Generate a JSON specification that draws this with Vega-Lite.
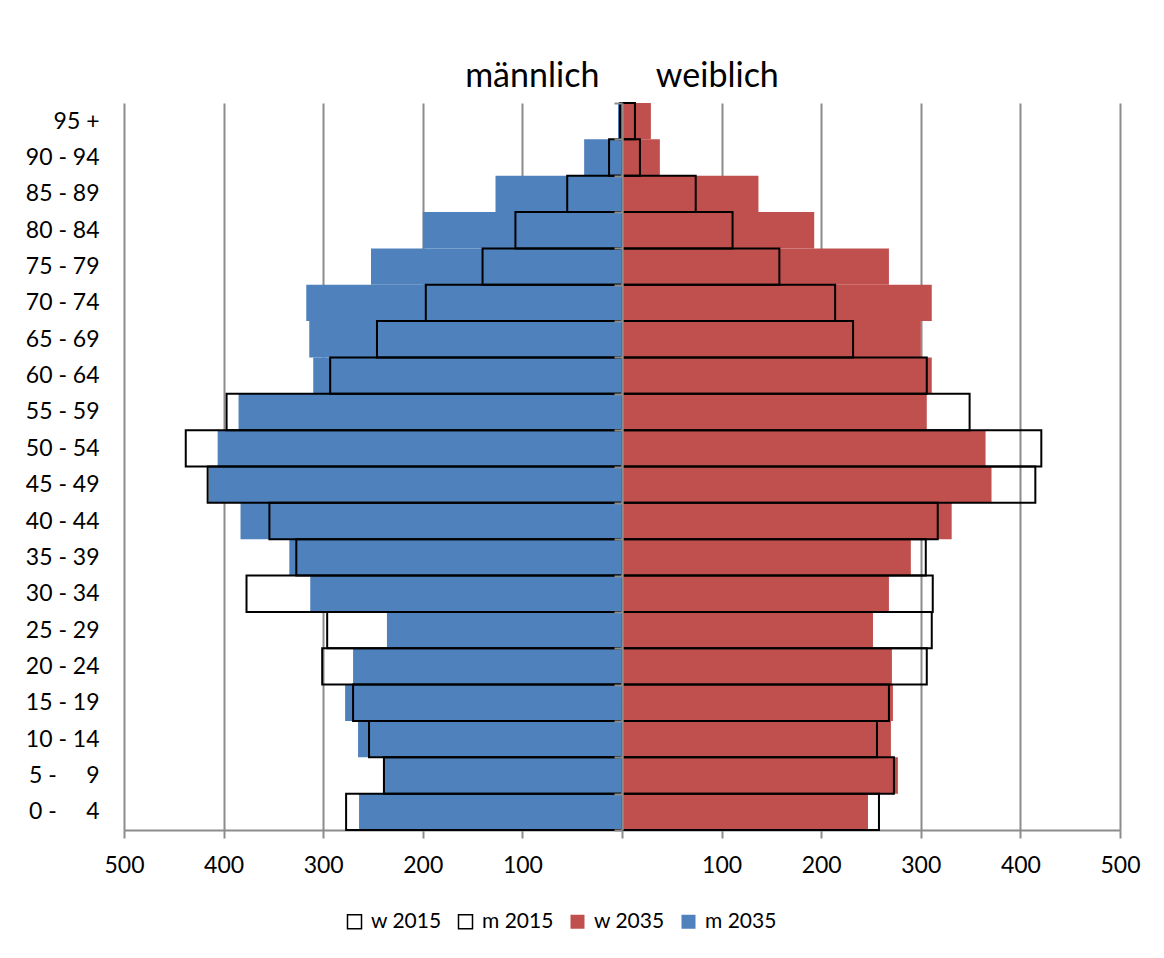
{
  "$schema": "https://vega.github.io/schema/vega-lite/v6.json",
  "width": 996,
  "height": 727,
  "autosize": "none",
  "padding": {"left": 124, "top": 103, "right": 44, "bottom": 128},
  "background": "white",
  "title": {
    "text": "männlich\u00a0\u00a0\u00a0\u00a0\u00a0\u00a0\u2009weiblich",
    "font": "Lato",
    "fontSize": 34,
    "fontWeight": "normal",
    "color": "black",
    "anchor": "middle",
    "frame": "group",
    "baseline": "bottom",
    "offset": 8,
    "dy": 44
  },
  "data": {
    "values": [
      {"alter": "0 -\u00a0\u00a0\u00a0\u00a0\u00a04", "serie": "m 2035", "wert": -264},
      {"alter": "5 -\u00a0\u00a0\u00a0\u00a0\u00a09", "serie": "m 2035", "wert": -240},
      {"alter": "10 - 14", "serie": "m 2035", "wert": -265},
      {"alter": "15 - 19", "serie": "m 2035", "wert": -278},
      {"alter": "20 - 24", "serie": "m 2035", "wert": -270},
      {"alter": "25 - 29", "serie": "m 2035", "wert": -236},
      {"alter": "30 - 34", "serie": "m 2035", "wert": -313},
      {"alter": "35 - 39", "serie": "m 2035", "wert": -334},
      {"alter": "40 - 44", "serie": "m 2035", "wert": -383},
      {"alter": "45 - 49", "serie": "m 2035", "wert": -415},
      {"alter": "50 - 54", "serie": "m 2035", "wert": -406},
      {"alter": "55 - 59", "serie": "m 2035", "wert": -385},
      {"alter": "60 - 64", "serie": "m 2035", "wert": -310},
      {"alter": "65 - 69", "serie": "m 2035", "wert": -314},
      {"alter": "70 - 74", "serie": "m 2035", "wert": -317},
      {"alter": "75 - 79", "serie": "m 2035", "wert": -252},
      {"alter": "80 - 84", "serie": "m 2035", "wert": -200},
      {"alter": "85 - 89", "serie": "m 2035", "wert": -127},
      {"alter": "90 - 94", "serie": "m 2035", "wert": -38},
      {"alter": "95 +", "serie": "m 2035", "wert": -4},
      {"alter": "0 -\u00a0\u00a0\u00a0\u00a0\u00a04", "serie": "w 2035", "wert": 247},
      {"alter": "5 -\u00a0\u00a0\u00a0\u00a0\u00a09", "serie": "w 2035", "wert": 277},
      {"alter": "10 - 14", "serie": "w 2035", "wert": 270},
      {"alter": "15 - 19", "serie": "w 2035", "wert": 272},
      {"alter": "20 - 24", "serie": "w 2035", "wert": 271},
      {"alter": "25 - 29", "serie": "w 2035", "wert": 252},
      {"alter": "30 - 34", "serie": "w 2035", "wert": 268},
      {"alter": "35 - 39", "serie": "w 2035", "wert": 290},
      {"alter": "40 - 44", "serie": "w 2035", "wert": 331},
      {"alter": "45 - 49", "serie": "w 2035", "wert": 371},
      {"alter": "50 - 54", "serie": "w 2035", "wert": 365},
      {"alter": "55 - 59", "serie": "w 2035", "wert": 306},
      {"alter": "60 - 64", "serie": "w 2035", "wert": 311},
      {"alter": "65 - 69", "serie": "w 2035", "wert": 300},
      {"alter": "70 - 74", "serie": "w 2035", "wert": 311},
      {"alter": "75 - 79", "serie": "w 2035", "wert": 268},
      {"alter": "80 - 84", "serie": "w 2035", "wert": 193},
      {"alter": "85 - 89", "serie": "w 2035", "wert": 137},
      {"alter": "90 - 94", "serie": "w 2035", "wert": 38},
      {"alter": "95 +", "serie": "w 2035", "wert": 29},
      {"alter": "0 -\u00a0\u00a0\u00a0\u00a0\u00a04", "serie": "m 2015", "wert": -277},
      {"alter": "5 -\u00a0\u00a0\u00a0\u00a0\u00a09", "serie": "m 2015", "wert": -239},
      {"alter": "10 - 14", "serie": "m 2015", "wert": -254},
      {"alter": "15 - 19", "serie": "m 2015", "wert": -270},
      {"alter": "20 - 24", "serie": "m 2015", "wert": -301},
      {"alter": "25 - 29", "serie": "m 2015", "wert": -296},
      {"alter": "30 - 34", "serie": "m 2015", "wert": -377},
      {"alter": "35 - 39", "serie": "m 2015", "wert": -327},
      {"alter": "40 - 44", "serie": "m 2015", "wert": -354},
      {"alter": "45 - 49", "serie": "m 2015", "wert": -416},
      {"alter": "50 - 54", "serie": "m 2015", "wert": -438},
      {"alter": "55 - 59", "serie": "m 2015", "wert": -397},
      {"alter": "60 - 64", "serie": "m 2015", "wert": -293},
      {"alter": "65 - 69", "serie": "m 2015", "wert": -246},
      {"alter": "70 - 74", "serie": "m 2015", "wert": -197},
      {"alter": "75 - 79", "serie": "m 2015", "wert": -140},
      {"alter": "80 - 84", "serie": "m 2015", "wert": -107},
      {"alter": "85 - 89", "serie": "m 2015", "wert": -55},
      {"alter": "90 - 94", "serie": "m 2015", "wert": -13},
      {"alter": "95 +", "serie": "m 2015", "wert": -2},
      {"alter": "0 -\u00a0\u00a0\u00a0\u00a0\u00a04", "serie": "w 2015", "wert": 258},
      {"alter": "5 -\u00a0\u00a0\u00a0\u00a0\u00a09", "serie": "w 2015", "wert": 273},
      {"alter": "10 - 14", "serie": "w 2015", "wert": 256},
      {"alter": "15 - 19", "serie": "w 2015", "wert": 268},
      {"alter": "20 - 24", "serie": "w 2015", "wert": 306},
      {"alter": "25 - 29", "serie": "w 2015", "wert": 311},
      {"alter": "30 - 34", "serie": "w 2015", "wert": 312},
      {"alter": "35 - 39", "serie": "w 2015", "wert": 305},
      {"alter": "40 - 44", "serie": "w 2015", "wert": 317},
      {"alter": "45 - 49", "serie": "w 2015", "wert": 415},
      {"alter": "50 - 54", "serie": "w 2015", "wert": 421},
      {"alter": "55 - 59", "serie": "w 2015", "wert": 349},
      {"alter": "60 - 64", "serie": "w 2015", "wert": 306},
      {"alter": "65 - 69", "serie": "w 2015", "wert": 232},
      {"alter": "70 - 74", "serie": "w 2015", "wert": 214},
      {"alter": "75 - 79", "serie": "w 2015", "wert": 158},
      {"alter": "80 - 84", "serie": "w 2015", "wert": 111},
      {"alter": "85 - 89", "serie": "w 2015", "wert": 74},
      {"alter": "90 - 94", "serie": "w 2015", "wert": 18},
      {"alter": "95 +", "serie": "w 2015", "wert": 13}
    ]
  },
  "mark": {"type": "bar", "strokeWidth": 2},
  "encoding": {
    "y": {
      "field": "alter",
      "type": "nominal",
      "sort": ["95 +", "90 - 94", "85 - 89", "80 - 84", "75 - 79", "70 - 74", "65 - 69", "60 - 64", "55 - 59", "50 - 54", "45 - 49", "40 - 44", "35 - 39", "30 - 34", "25 - 29", "20 - 24", "15 - 19", "10 - 14", "5 -\u00a0\u00a0\u00a0\u00a0\u00a09", "0 -\u00a0\u00a0\u00a0\u00a0\u00a04"],
      "scale": {"paddingInner": 0, "paddingOuter": 0},
      "axis": {
        "orient": "left",
        "offset": -498,
        "zindex": 1,
        "title": null,
        "grid": false,
        "domainColor": "#8c8c8c",
        "domainWidth": 2.5,
        "ticks": true,
        "tickBand": "extent",
        "tickSize": 8,
        "tickColor": "#8c8c8c",
        "tickWidth": 2,
        "labelPadding": 515,
        "labelAlign": "right",
        "labelBaseline": "middle",
        "labelFont": "Lato",
        "labelFontSize": 23,
        "labelColor": "black",
        "labelLimit": 300
      }
    },
    "x": {
      "field": "wert",
      "type": "quantitative",
      "stack": null,
      "scale": {"domain": [-500, 500], "nice": false, "zero": false},
      "axis": {
        "orient": "bottom",
        "title": null,
        "values": [-500, -400, -300, -200, -100, 0, 100, 200, 300, 400, 500],
        "labelExpr": "datum.value == 0 ? '' : '' + abs(datum.value)",
        "grid": true,
        "gridColor": "#8c8c8c",
        "gridWidth": 2,
        "domainColor": "#8c8c8c",
        "domainWidth": 2,
        "tickColor": "#8c8c8c",
        "tickWidth": 2,
        "tickSize": 8,
        "labelPadding": 16,
        "labelFlush": false,
        "labelOverlap": false,
        "labelFont": "Lato",
        "labelFontSize": 23,
        "labelColor": "black",
        "zindex": 0
      }
    },
    "fill": {
      "field": "serie",
      "type": "nominal",
      "scale": {"domain": ["w 2015", "m 2015", "w 2035", "m 2035"], "range": ["transparent", "transparent", "#C0504D", "#4F81BD"]},
      "legend": {"title": null}
    },
    "stroke": {
      "field": "serie",
      "type": "nominal",
      "scale": {"domain": ["w 2015", "m 2015", "w 2035", "m 2035"], "range": ["black", "black", "transparent", "transparent"]},
      "legend": {"title": null}
    }
  },
  "config": {
    "font": "Lato",
    "view": {"stroke": null},
    "legend": {
      "orient": "none",
      "legendX": 220,
      "legendY": 808,
      "direction": "horizontal",
      "columns": 4,
      "symbolType": "square",
      "symbolSize": 196,
      "symbolStrokeWidth": 1.5,
      "labelFont": "Lato",
      "labelFontSize": 21,
      "labelColor": "black",
      "labelOffset": 6,
      "columnPadding": 13,
      "padding": 0
    }
  }
}
